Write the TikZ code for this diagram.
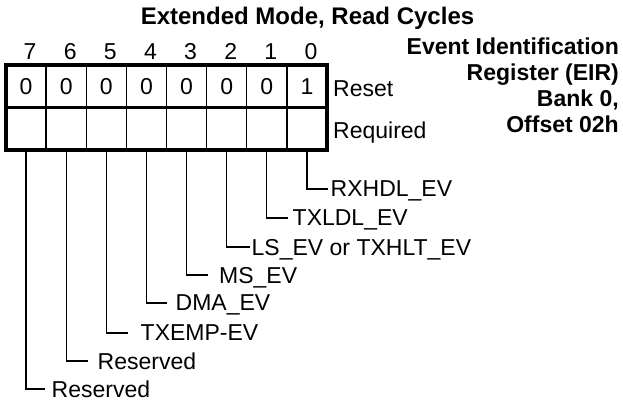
\documentclass[tikz,border=0pt]{standalone}
\usepackage{fontspec}
\setmainfont{Liberation Sans}
\usetikzlibrary{positioning}

\begin{document}
\begin{tikzpicture}[x=1pt,y=-1pt,node distance=0pt,
        font=\fontsize{23}{26}\selectfont,
        boldtext/.style={font=\fontsize{23}{26}\selectfont\bfseries},
        bitcell/.style={draw, line width=1.3pt, minimum width=40.125pt, minimum height=42.5pt, inner sep=0pt, outer sep=0pt, text depth=0pt},
        bitnum/.style={inner sep=0pt, text depth=0pt, xshift=4pt},
        rowlabel/.style={inner sep=0pt, text depth=0pt},
        evlabel/.style={anchor=west, inner sep=0pt, text depth=0pt},
        leader/.style={line width=1.3pt}]
        \useasboundingbox (0,0) rectangle (623,408);

        \node (title) [boldtext, font=\fontsize{24}{26}\selectfont\bfseries, text depth=0pt, inner sep=0pt] at (307.5,15.5) {Extended Mode, Read Cycles};
        \node (regname) [boldtext, align=right, anchor=north east, inner sep=0pt] at (619,38) {Event Identification\\Register (EIR)\\Bank 0,\\Offset 02h};

        % reset row
        \node (c7) [bitcell] at (26.06,86.25) {0};
        \node (c6) [bitcell, right=of c7] {0};
        \node (c5) [bitcell, right=of c6] {0};
        \node (c4) [bitcell, right=of c5] {0};
        \node (c3) [bitcell, right=of c4] {0};
        \node (c2) [bitcell, right=of c3] {0};
        \node (c1) [bitcell, right=of c2] {0};
        \node (c0) [bitcell, right=of c1] {1};
        % required row
        \node (r7) [bitcell, below=of c7] {};
        \node (r6) [bitcell, below=of c6] {};
        \node (r5) [bitcell, below=of c5] {};
        \node (r4) [bitcell, below=of c4] {};
        \node (r3) [bitcell, below=of c3] {};
        \node (r2) [bitcell, below=of c2] {};
        \node (r1) [bitcell, below=of c1] {};
        \node (r0) [bitcell, below=of c0] {};

        \node (n7) [bitnum, above=5pt of c7] {7};
        \node (n6) [bitnum, above=5pt of c6] {6};
        \node (n5) [bitnum, above=5pt of c5] {5};
        \node (n4) [bitnum, above=5pt of c4] {4};
        \node (n3) [bitnum, above=5pt of c3] {3};
        \node (n2) [bitnum, above=5pt of c2] {2};
        \node (n1) [bitnum, above=5pt of c1] {1};
        \node (n0) [bitnum, above=5pt of c0] {0};

        \node (reset) [rowlabel, right=6pt of c0, yshift=-2.5pt] {Reset};
        \node (req) [rowlabel, right=6pt of r0, yshift=-1pt] {Required};

        \draw[line width=3.2pt] (c7.north west) rectangle (r0.south east);
        \draw[line width=3pt] (c7.south west) -- (c0.south east);

        % leaders
        \coordinate (e0) at (328,189);
        \coordinate (e1) at (288,218);
        \coordinate (e2) at (250,247);
        \coordinate (e3) at (208,275);
        \coordinate (e4) at (167,303);
        \coordinate (e5) at (128,333);
        \coordinate (e6) at (88,361);
        \coordinate (e7) at (45,389);

        \node (ev0) [evlabel] at (330.5,189) {RXHDL\_EV};
        \node (ev1) [evlabel] at (292.5,218) {TXLDL\_EV};
        \node (ev2) [evlabel] at (251.5,247) {LS\_EV or TXHLT\_EV};
        \node (ev3) [evlabel] at (219,275) {MS\_EV};
        \node (ev4) [evlabel] at (175.5,303) {DMA\_EV};
        \node (ev5) [evlabel] at (140.5,333) {TXEMP-EV};
        \node (ev6) [evlabel] at (97.5,361) {Reserved};
        \node (ev7) [evlabel] at (51.5,389) {Reserved};

        \draw[leader] (r0.south) |- (e0);
        \draw[leader] (r1.south) |- (e1);
        \draw[leader] (r2.south) |- (e2);
        \draw[leader] (r3.south) |- (e3);
        \draw[leader] (r4.south) |- (e4);
        \draw[leader] (r5.south) |- (e5);
        \draw[leader] (r6.south) |- (e6);
        \draw[leader] (r7.south) |- (e7);
\end{tikzpicture}
\end{document}
